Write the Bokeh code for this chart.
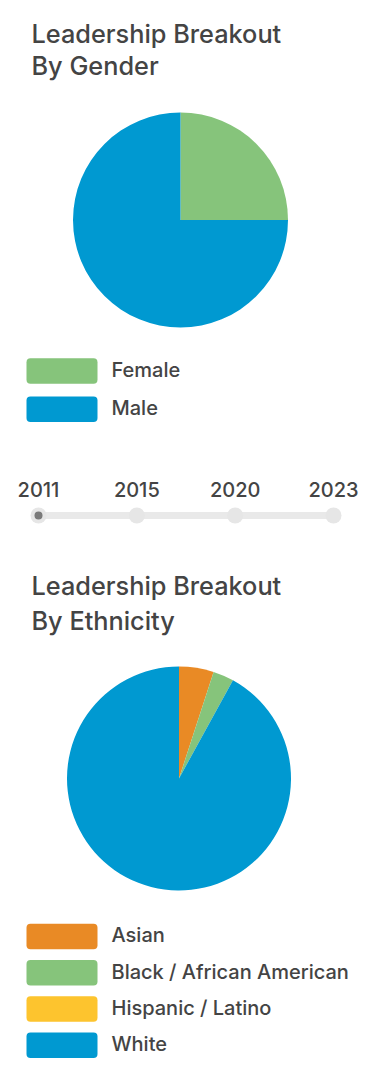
from math import pi
from bokeh.plotting import figure
from bokeh.models import Range1d
from bokeh.core.properties import value
from bokeh.embed import file_html
from bokeh.resources import INLINE

# ---- data ----
gender_labels = ["Female", "Male"]
gender_values = [25, 75]
gender_colors = ["#86c47b", "#0099d1"]

years = ["2011", "2015", "2020", "2023"]
active_year = "2011"

eth_labels = ["Asian", "Black / African American", "Hispanic / Latino", "White"]
eth_values = [5, 3, 0, 92]
eth_colors = ["#e98a25", "#86c47b", "#fdc42e", "#0099d1"]

titles_gender = ["Leadership Breakout", "By Gender"]
titles_eth = ["Leadership Breakout", "By Ethnicity"]

# ---- layout ----
W, H = 367, 1072
FONT = "Inter Medium"
TXT = "#444444"
TSHIFT = 8.5  # text baseline correction


def X(px):
    return px


def Y(py):
    return H - py


def TY(py):
    return H - (py - TSHIFT)


p = figure(width=W, height=H, output_backend="svg", toolbar_location=None,
           x_range=Range1d(0, W), y_range=Range1d(0, H), min_border=0)
p.axis.visible = False
p.grid.visible = False
p.outline_line_color = None
p.background_fill_color = "white"
p.border_fill_color = "white"


def title(lines, baselines):
    p.text(x=[X(31)] * len(lines), y=[TY(b) for b in baselines], text=lines,
           text_font=value(FONT), text_font_size="25.3px", text_color=TXT,
           text_baseline="alphabetic", text_align="left")


def pie(values, colors, cx, cy, r):
    total = float(sum(values))
    starts, ends = [], []
    cum = 0.0
    for v in values:
        starts.append(pi / 2 - 2 * pi * cum / total)
        cum += v
        ends.append(pi / 2 - 2 * pi * cum / total)
    keep = [i for i, v in enumerate(values) if v > 0]
    p.wedge(x=[X(cx)] * len(keep), y=[Y(cy)] * len(keep), radius=r,
            start_angle=[starts[i] for i in keep], end_angle=[ends[i] for i in keep],
            direction="clock", fill_color=[colors[i] for i in keep], line_color=None)


def legend(labels, colors, top0, step):
    tops = [top0 + i * step for i in range(len(labels))]
    p.quad(left=[X(26)] * len(labels), right=[X(97)] * len(labels),
           top=[Y(t) for t in tops], bottom=[Y(t + 25.5) for t in tops],
           fill_color=colors, line_color=None, border_radius=4)
    p.text(x=[X(111)] * len(labels), y=[TY(t + 20) for t in tops], text=labels,
           text_font=value(FONT), text_font_size="20px", text_color=TXT,
           text_baseline="alphabetic", text_align="left")


# gender block
title(titles_gender, [41, 73.5])
pie(gender_values, gender_colors, 180, 219.5, 107.5)
legend(gender_labels, gender_colors, 357.7, 38.3)

# timeline
n = len(years)
x0, x1 = 38, 333
xs = [x0 + (x1 - x0) * i / (n - 1) for i in range(n)]
ty = 515
p.segment(x0=[X(x0)], y0=[Y(ty)], x1=[X(x1)], y1=[Y(ty)],
          line_color="#e9e9e9", line_width=7, line_cap="round")
p.scatter(x=[X(v) for v in xs], y=[Y(ty)] * n, size=16, marker="circle",
          fill_color="#e6e6e6", line_color=None)
ai = years.index(active_year)
p.scatter(x=[X(xs[ai])], y=[Y(ty)], size=8, marker="circle",
          fill_color="#7a7a7a", line_color=None)
p.text(x=[X(v) for v in xs], y=[TY(497.7)] * n, text=years,
       text_font=value(FONT), text_font_size="20px", text_color=TXT,
       text_baseline="alphabetic", text_align="center")

# ethnicity block
title(titles_eth, [593.3, 628.3])
pie(eth_values, eth_colors, 178.5, 778, 112)
legend(eth_labels, eth_colors, 923.3, 36.25)

open("out.html", "w").write(file_html(p, INLINE))
